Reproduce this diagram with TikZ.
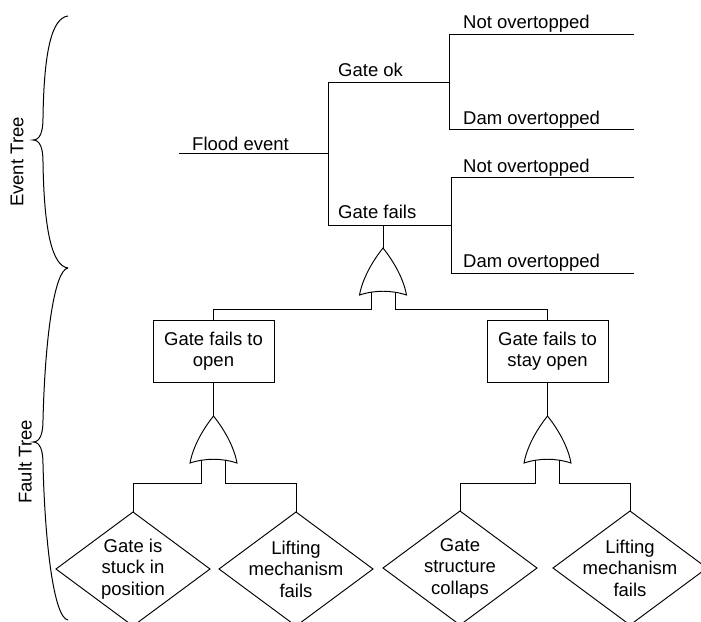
\documentclass[tikz,border=0pt]{standalone}
\usepackage{fontspec}
\setmainfont{Liberation Sans}
\usetikzlibrary{shapes.geometric}
\tikzset{
  every node/.style={font=\fontsize{18.5}{21.5}\selectfont},
  ln/.style={line width=0.95pt, line join=miter},
  lbl/.style={anchor=base west, inner sep=0pt},
  evbox/.style={draw, line width=0.95pt, rectangle, minimum width=121pt, minimum height=62pt, inner sep=0pt, outer sep=0pt, align=center},
  basic/.style={draw, line width=0.95pt, diamond, minimum width=154pt, minimum height=114pt, inner sep=0pt, outer sep=0pt},
  bracestyle/.style={line width=1pt},
  orgate/.pic={
    \draw[line width=0.95pt] (-23.5,47) .. controls (-20,28) and (-8,10) .. (0,0)
       .. controls (8,10) and (20,28) .. (23.5,47)
       .. controls (8,42) and (-8,42) .. (-23.5,47) -- cycle;
    \coordinate (-top) at (0,0);
    \coordinate (-l) at (-12,44.2);
    \coordinate (-r) at (12,44.2);
  }
}
\begin{document}
\begin{tikzpicture}[x=1pt,y=-1pt]
\clip (0,0) rectangle (701,621);
\fill[white] (0,0) rectangle (701,621);

% ---------- Event tree ----------
\coordinate (fe) at (179,153);
\coordinate (b1) at (328,153);
\coordinate (ok) at (328,82);
\coordinate (fl) at (328,225);
\coordinate (okend) at (449,82);
\coordinate (flend) at (451,225);
\coordinate (n1a) at (449,34);  \coordinate (n1b) at (634,34);
\coordinate (d1a) at (449,129); \coordinate (d1b) at (634,129);
\coordinate (n2a) at (451,177); \coordinate (n2b) at (634,177);
\coordinate (d2a) at (451,273); \coordinate (d2b) at (634,273);
\coordinate (gf) at (383,225);

\draw[ln] (fe) -- (b1);
\draw[ln] (ok) -- (fl);
\draw[ln] (ok) -- (okend);
\draw[ln] (fl) -- (flend);
\draw[ln] (n1a) -- (d1a);
\draw[ln] (n1a) -- (n1b);
\draw[ln] (d1a) -- (d1b);
\draw[ln] (n2a) -- (d2a);
\draw[ln] (n2a) -- (n2b);
\draw[ln] (d2a) -- (d2b);

\node[lbl] (tfe) at (192,150) {Flood event};
\node[lbl] (tok) at (338,76) {Gate ok};
\node[lbl] (tfl) at (338,218) {Gate fails};
\node[lbl] (tn1) at (463,28) {Not overtopped};
\node[lbl] (td1) at (463,124) {Dam overtopped};
\node[lbl] (tn2) at (463,172) {Not overtopped};
\node[lbl] (td2) at (463,267) {Dam overtopped};

% ---------- Fault tree ----------
\pic (g0) at (383,248) {orgate};
\draw[ln] (gf) -- (g0-top);

\node[evbox] (bx1) at (213.5,351) {Gate fails to\\open};
\node[evbox] (bx2) at (547.5,351) {Gate fails to\\stay open};

\draw[ln] (g0-l) -- ++(0,16.8) -| (bx1.north);
\draw[ln] (g0-r) -- ++(0,16.8) -| (bx2.north);

\pic (g1) at (213.5,416) {orgate};
\pic (g2) at (547.5,416) {orgate};
\draw[ln] (bx1.south) -- (g1-top);
\draw[ln] (bx2.south) -- (g2-top);

\node[basic, label={[align=center]center:Gate is\\stuck in\\position}] (e1) at (133,569) {};
\node[basic, label={[align=center]center:Lifting\\mechanism\\fails}] (e2) at (296,569) {};
\node[basic, label={[align=center]center:Gate\\structure\\collaps}] (e3) at (460,568) {};
\node[basic, label={[align=center]center:Lifting\\mechanism\\fails}] (e4) at (630,568) {};

\draw[ln] (g1-l) -- ++(0,22.8) -| (e1.north);
\draw[ln] (g1-r) -- ++(0,22.8) -| (e2.north);
\draw[ln] (g2-l) -- ++(0,22.8) -| (e3.north);
\draw[ln] (g2-r) -- ++(0,22.8) -| (e4.north);

% ---------- Braces ----------
\draw[bracestyle] (68,16) .. controls (52,18) and (44,50) .. (43,118)
   .. controls (43,132) and (40,140) .. (33,140)
   .. controls (40,140) and (43,148) .. (43,162)
   .. controls (44,230) and (52,266) .. (68,268);
\draw[bracestyle] (68,268) .. controls (54,270) and (45,340) .. (43,420)
   .. controls (43,434) and (40,442) .. (33,442)
   .. controls (40,442) and (43,450) .. (43,464)
   .. controls (45,545) and (54,618) .. (68,620);

\node[rotate=90, inner sep=0pt] (et) at (17,162) {Event Tree};
\node[rotate=90, inner sep=0pt] (ft) at (25,462) {Fault Tree};
\end{tikzpicture}
\end{document}
